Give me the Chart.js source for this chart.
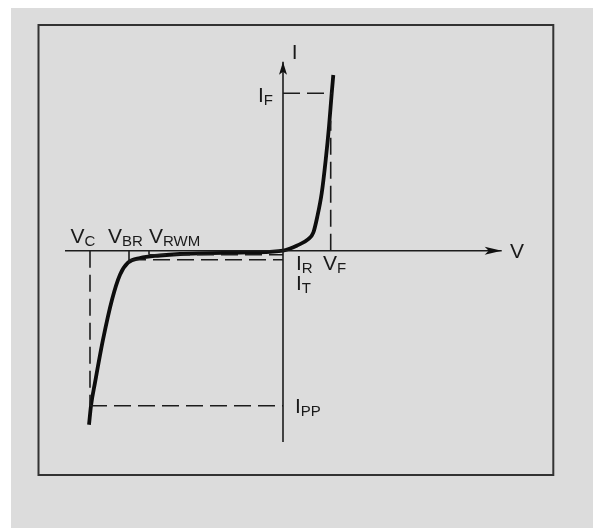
<!DOCTYPE html>
<html>
<head>
<meta charset="utf-8">
<script src="https://cdn.jsdelivr.net/npm/chart.js@4.4.1/dist/chart.umd.min.js"></script>
<style>
  html, body { margin: 0; padding: 0; background: #fff; }
  #wrap { position: relative; width: 595px; height: 529px; }
  #paper { position: absolute; left: 11px; top: 8px; width: 582px; height: 520px; background: #dcdcdc; }
  #chart { position: absolute; left: 0; top: 0; }
</style>
</head>
<body>
<div id="wrap">
  <div id="paper"></div>
  <canvas id="chart" width="595" height="529"></canvas>
</div>
<script>
// TVS diode I-V characteristic, in drawing units (origin = 0 V, 0 A)
const curveV = [-19.4, -19.2, -18.8, -18.0, -17.1, -16.3, -15.5, -14.3, -12.3, -10.3, -8.3, -4.3, -1.3, 0,
                0.65, 1.37, 2.53, 3.03, 3.43, 3.87, 4.27, 4.6, 4.87, 5.03];
const curveI = [-17.4, -15.5, -13.2, -8.9, -4.9, -2.4, -1.2, -0.73, -0.48, -0.33, -0.26, -0.19, -0.11, 0,
                0.2, 0.5, 1.15, 1.8, 3.4, 5.74, 9.07, 12.4, 15.74, 17.57];

// characteristic points
const VC = -19.3, VBR = -15.4, VRWM = -13.4, VF = 4.77;
const IF = 15.74, IR = -0.4, IT = -0.9, IPP = -15.5;

// axis lines (start, arrow tip)
const vAxis = [-21.8, 21.87];
const iAxis = [-19.13, 18.9];

// text labels: letter, subscript, position (V, I) of the baseline start
const labelMain = ['I', 'I', 'V', 'V', 'V', 'V', 'I', 'I', 'V', 'I'];
const labelSub  = ['', 'F', '', 'C', 'BR', 'RWM', 'R', 'T', 'F', 'PP'];
const labelV    = [0.87, -2.5, 22.7, -21.25, -17.5, -13.4, 1.3, 1.3, 4.0, 1.2];
const labelI    = [19.17, 14.84, -0.73, 0.74, 0.74, 0.74, -1.93, -3.88, -1.93, -16.26];

const pts = (xs, ys) => xs.map((x, i) => ({ x: x, y: ys[i] }));

const dashed = (xs, ys) => ({
    data: pts(xs, ys), showLine: true, borderColor: '#1c1c1c', borderWidth: 1.6,
    borderDash: [17, 7], pointRadius: 0, tension: 0
});
const solid = (xs, ys, w) => ({
    data: pts(xs, ys), showLine: true, borderColor: '#1c1c1c', borderWidth: w,
    pointRadius: 0, tension: 0
});

const datasets = [
    solid(vAxis, [0, 0], 1.6),
    solid([0, 0], iAxis, 1.6),
    solid([VBR, VBR], [0, -1.2], 1.6),
    solid([VRWM, VRWM], [0, IR], 1.6),
    dashed([0, 4.9], [IF, IF]),
    dashed([VF, VF], [0, 13]),
    dashed([VRWM, 0], [IR, IR]),
    dashed([VBR, 0], [IT, IT]),
    dashed([VC, VC], [0, IPP]),
    dashed([VC, 0], [IPP, IPP]),
    {
        data: pts(curveV, curveI), showLine: true, borderColor: '#0d0d0d', borderWidth: 3.8,
        pointRadius: 0, cubicInterpolationMode: 'monotone'
    }
];

const FONT = '"Liberation Sans", Arial, Helvetica, sans-serif';

const diagram = {
    id: 'diagram',
    afterDatasetsDraw(chart) {
        const { ctx, chartArea: a, scales: { x, y } } = chart;
        ctx.save();
        // frame
        ctx.strokeStyle = '#333';
        ctx.lineWidth = 2;
        ctx.strokeRect(a.left, a.top, a.right - a.left, a.bottom - a.top);

        // arrow heads
        ctx.fillStyle = '#111';
        const tx = x.getPixelForValue(vAxis[1]), y0 = y.getPixelForValue(0);
        ctx.beginPath();
        ctx.moveTo(tx, y0);
        ctx.lineTo(tx - 17, y0 - 4);
        ctx.lineTo(tx - 13, y0);
        ctx.lineTo(tx - 17, y0 + 4);
        ctx.closePath();
        ctx.fill();
        const ty = y.getPixelForValue(iAxis[1]), x0 = x.getPixelForValue(0);
        ctx.beginPath();
        ctx.moveTo(x0, ty);
        ctx.lineTo(x0 - 4, ty + 13);
        ctx.lineTo(x0, ty + 10);
        ctx.lineTo(x0 + 4, ty + 13);
        ctx.closePath();
        ctx.fill();

        // labels
        ctx.fillStyle = '#1a1a1a';
        ctx.textBaseline = 'alphabetic';
        ctx.textAlign = 'left';
        labelMain.forEach((m, i) => {
            const px = x.getPixelForValue(labelV[i]);
            const py = y.getPixelForValue(labelI[i]);
            ctx.font = '21px ' + FONT;
            ctx.fillText(m, px, py);
            if (labelSub[i]) {
                const w = ctx.measureText(m).width;
                ctx.font = '15px ' + FONT;
                ctx.fillText(labelSub[i], px + w, py + 3);
            }
        });
        ctx.restore();
    }
};

new Chart(document.getElementById('chart'), {
    type: 'scatter',
    data: { datasets: datasets },
    options: {
        responsive: false,
        devicePixelRatio: 1,
        animation: false,
        events: [],
        layout: { padding: { left: 38.5, top: 25, right: 41.7, bottom: 54 } },
        plugins: { legend: { display: false }, tooltip: { enabled: false } },
        scales: {
            x: { type: 'linear', display: false, min: -24.45, max: 27.03 },
            y: { type: 'linear', display: false, min: -22.43, max: 22.57 }
        }
    },
    plugins: [diagram]
});
</script>
</body>
</html>
